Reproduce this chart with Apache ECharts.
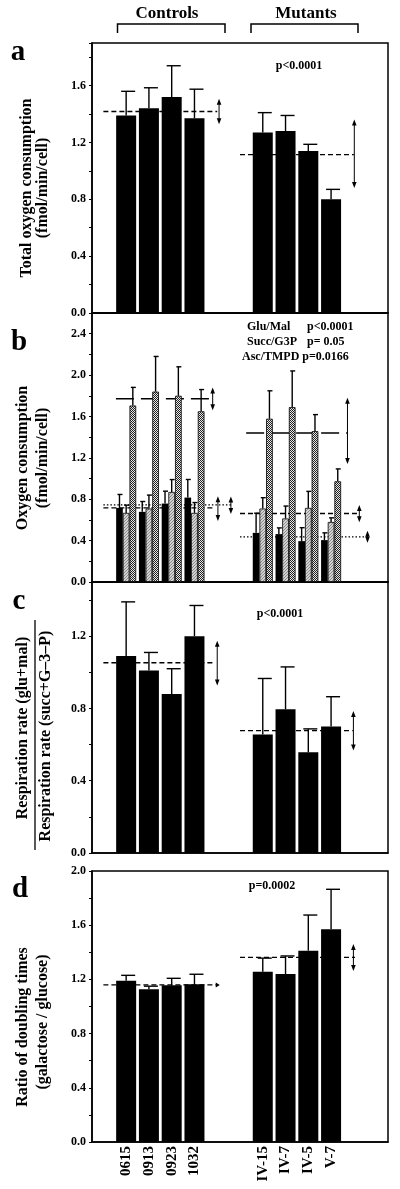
<!DOCTYPE html>
<html><head><meta charset="utf-8">
<script src="https://cdn.jsdelivr.net/npm/echarts@6/dist/echarts.min.js"></script>
<style>html,body{margin:0;padding:0;background:#fff}#c{width:400px;height:1189px}</style>
</head><body><div id="c"></div>
<script>
// ---------- DATA ----------
const samples = ['0615','0913','0923','1032','IV-15','IV-7','IV-5','V-7'];
const slotNames = [' ','0615','0913','0923','1032','  ','   ','IV-15','IV-7','IV-5','V-7','    ','     '];
const yTickLabels = ['0.0','0.4','0.8','1.2','1.6','2.0','2.4'];

// panel a: total oxygen consumption (fmol/min/cell)
const totalO2     = [1.39, 1.44, 1.52, 1.37, 1.27, 1.28, 1.14, 0.80];
const totalO2Sd   = [0.17, 0.145, 0.22, 0.205, 0.14, 0.11, 0.047, 0.07];
const totalO2Mean = [1.418, 1.114];
const totalO2Rng  = [[1.335, 1.50], [0.886, 1.354]];

// panel b: oxygen consumption by substrate
const gluMal    = [0.716, 0.678, 0.758, 0.816, 0.475, 0.463, 0.395, 0.405];
const gluMalSd  = [0.13, 0.10, 0.12, 0.175, 0.19, 0.06, 0.13, 0.07];
const succG3P   = [0.668, 0.71, 0.87, 0.668, 0.71, 0.614, 0.716, 0.58];
const succG3PSd = [0.075, 0.13, 0.12, 0.10, 0.105, 0.12, 0.16, 0.04];
const ascTMPD   = [1.706, 1.84, 1.80, 1.65, 1.578, 1.69, 1.458, 0.973];
const ascTMPDSd = [0.175, 0.34, 0.28, 0.21, 0.27, 0.35, 0.16, 0.12];
const gluMalMean  = [0.745, 0.437];
const gluMalRng   = [[0.668, 0.816], [0.389, 0.485]];
const succG3PMean = [0.716, 0.662];
const succG3PRng  = [[0.60, 0.82], [0.588, 0.735]];
const ascTMPDMean = [1.77, 1.44];
const ascTMPDRng  = [[1.67, 1.87], [1.15, 1.77]];

// panel c: respiration ratio
const respRatio     = [1.09, 1.01, 0.88, 1.20, 0.656, 0.795, 0.557, 0.70];
const respRatioSd   = [0.30, 0.10, 0.14, 0.17, 0.31, 0.235, 0.13, 0.165];
const respRatioMean = [1.053, 0.677];
const respRatioRng  = [[0.933, 1.169], [0.573, 0.78]];

// panel d: ratio of doubling times
const doubling     = [1.19, 1.127, 1.156, 1.164, 1.257, 1.24, 1.412, 1.57];
const doublingSd   = [0.04, 0.023, 0.052, 0.074, 0.10, 0.133, 0.263, 0.295];
const doublingMean = [1.159, 1.363];
const doublingRng  = [[1.152, 1.166], [1.27, 1.454]];

// ---------- LAYOUT ----------
const FONT = "'Liberation Serif','Times New Roman',serif";
const sampleSlot = [1,2,3,4,7,8,9,10];
function toSlots(arr){ const o = slotNames.map(()=>'-'); sampleSlot.forEach((s,i)=>o[s]=arr[i]); return o; }

function makePattern(kind){
  const c = document.createElement('canvas');
  if (kind==='cross'){
    c.width=2; c.height=2; const g=c.getContext('2d');
    g.fillStyle='#e8e8e8'; g.fillRect(0,0,2,2);
    g.fillStyle='#222'; g.fillRect(0,0,1,1); g.fillRect(1,1,1,1);
  } else {
    c.width=3; c.height=3; const g=c.getContext('2d');
    g.fillStyle='#d2d2d2'; g.fillRect(0,0,3,3);
    g.fillStyle='#8a8a8a'; g.fillRect(0,0,1,1); g.fillRect(2,1,1,1); g.fillRect(1,2,1,1);
  }
  return {image:c, repeat:'repeat'};
}
const crossFill = makePattern('cross');
const greyFill = makePattern('grey');

const grids = [
  {left:92, width:296, top:43,  height:270},
  {left:92, width:296, top:313, height:269},
  {left:92, width:296, top:582, height:271},
  {left:92, width:296, top:871, height:271}
];
const yMax = [1.9, 2.6, 1.5, 2.0];

function yAxis(i){
  return {
    type:'value', gridIndex:i, min:0, max:yMax[i], interval:0.2,
    axisLine:{show:true, lineStyle:{color:'#000', width:1.5}},
    axisTick:{show:true, length:3, lineStyle:{color:'#000', width:1}},
    splitLine:{show:false},
    axisLabel:{
      margin:6, color:'#000', fontFamily:FONT, fontWeight:'bold', fontSize:12,
      formatter: v => { const k = Math.round(v*10); return (k%4===0) ? yTickLabels[k/4] : ''; }
    }
  };
}
function xAxis(i){
  return {
    type:'category', gridIndex:i, data:slotNames,
    axisLine:{show:true, lineStyle:{color:'#000', width:1.5}},
    axisTick:{show:false},
    axisLabel:{show:i===3, rotate:90, margin:4, color:'#000', fontFamily:FONT, fontWeight:'bold', fontSize:15, interval:0}
  };
}

function barSeries(i, vals, color, width){
  return {type:'bar', xAxisIndex:i, yAxisIndex:i, data:toSlots(vals), barWidth:width, barGap:'0%', z:2,
    itemStyle:{color:color, borderColor:'#000', borderWidth: color==='#000'?0:0.8}, silent:true};
}

function errSeries(i, vals, sds, offset, capL, capR){
  return {type:'custom', xAxisIndex:i, yAxisIndex:i, z:3, silent:true,
    data: vals.map((v,k)=>[sampleSlot[k], v, sds[k]]),
    renderItem:(params, api)=>{
      const slot = api.value(0), v = api.value(1), sd = api.value(2);
      const p0 = api.coord([slot, v]), p1 = api.coord([slot, v+sd]);
      const x = p0[0] + offset;
      return {type:'group', children:[
        {type:'line', shape:{x1:x, y1:p0[1], x2:x, y2:p1[1]}, style:{stroke:'#000', lineWidth:1.4}},
        {type:'line', shape:{x1:x-capL, y1:p1[1], x2:x+capR, y2:p1[1]}, style:{stroke:'#000', lineWidth:1.4}}
      ]};
    }};
}

// reference line specs: positions in slot units
function refSeries(i, items){
  return {type:'custom', xAxisIndex:i, yAxisIndex:i, z:1, silent:true,
    data: items.map((d,k)=>[k]),
    renderItem:(params, api)=>{
      const s = items[params.dataIndex];
      const bw = api.size([1,0])[0];
      const xc0 = api.coord([0,0])[0];
      const X = p => xc0 + p*bw;
      const Y = v => api.coord([0,v])[1];
      const ch = [];
      ch.push({type:'line', shape:{x1:X(s.x0), y1:Y(s.mean), x2:X(s.x1), y2:Y(s.mean)},
               style:{stroke:'#000', lineWidth:s.lw||1.3, lineDash:s.dash}});
      const ax = X(s.xa), yt = Y(s.rng[1]), yb = Y(s.rng[0]);
      if (yb - yt < 8) {
        const ym = Y(s.mean);
        ch.push({type:'polygon', shape:{points:[[ax-1,ym-2.5],[ax+3,ym],[ax-1,ym+2.5]]}, style:{fill:'#000'}});
      } else {
        ch.push({type:'line', shape:{x1:ax, y1:yt+2, x2:ax, y2:yb-2}, style:{stroke:'#000', lineWidth:1}});
        ch.push({type:'polygon', shape:{points:[[ax,yt-1],[ax-2.3,yt+5],[ax+2.3,yt+5]]}, style:{fill:'#000'}});
        ch.push({type:'polygon', shape:{points:[[ax,yb+1],[ax-2.3,yb-5],[ax+2.3,yb-5]]}, style:{fill:'#000'}});
      }
      return {type:'group', children:ch};
    }};
}
const DASH = [5,3], DOT = [1.5,2], LONG = [18,7];

const series = [
  // a
  refSeries(0, [
    {mean:totalO2Mean[0], rng:totalO2Rng[0], x0:0, x1:5, xa:5.08, dash:DASH},
    {mean:totalO2Mean[1], rng:totalO2Rng[1], x0:6, x1:11, xa:11.02, dash:DASH}
  ]),
  barSeries(0, totalO2, '#000', 20),
  errSeries(0, totalO2, totalO2Sd, 0, 5, 9),
  // b
  refSeries(1, [
    {mean:gluMalMean[0], rng:gluMalRng[0], x0:0, x1:5.6, xa:5.6, dash:DOT},
    {mean:gluMalMean[1], rng:gluMalRng[1], x0:6, x1:11.56, xa:11.6, dash:DOT},
    {mean:succG3PMean[0], rng:succG3PRng[0], x0:0, x1:4.8, xa:5.03, dash:DASH},
    {mean:succG3PMean[1], rng:succG3PRng[1], x0:6, x1:11.18, xa:11.24, dash:DASH},
    {mean:ascTMPDMean[0], rng:ascTMPDRng[0], x0:0.55, x1:4.7, xa:4.8, dash:LONG, lw:1.5},
    {mean:ascTMPDMean[1], rng:ascTMPDRng[1], x0:6.27, x1:10.7, xa:10.72, dash:LONG, lw:1.5}
  ]),
  barSeries(1, gluMal, '#000', 6.67),
  barSeries(1, succG3P, greyFill, 6.67),
  barSeries(1, ascTMPD, crossFill, 6.67),
  errSeries(1, gluMal, gluMalSd, -6.67, 2, 3),
  errSeries(1, succG3P, succG3PSd, 0, 2, 3),
  errSeries(1, ascTMPD, ascTMPDSd, 6.67, 2, 3),
  // c
  refSeries(2, [
    {mean:respRatioMean[0], rng:respRatioRng[0], x0:0, x1:4.83, xa:5.0, dash:DASH},
    {mean:respRatioMean[1], rng:respRatioRng[1], x0:6, x1:10.95, xa:10.98, dash:DASH}
  ]),
  barSeries(2, respRatio, '#000', 20),
  errSeries(2, respRatio, respRatioSd, 0, 5, 9),
  // d
  refSeries(3, [
    {mean:doublingMean[0], rng:doublingRng[0], x0:0, x1:4.98, xa:4.98, dash:DASH},
    {mean:doublingMean[1], rng:doublingRng[1], x0:6, x1:11.05, xa:10.98, dash:DASH}
  ]),
  barSeries(3, doubling, '#000', 20),
  errSeries(3, doubling, doublingSd, 0, 5, 9)
];

function txt(x, y, s, opt){
  opt = opt || {};
  return {type:'text', x:x, y:y, rotation:opt.rot||0, z:10, silent:true,
    style:{text:s, fill:'#000', font:(opt.weight||'bold')+' '+(opt.size||16)+'px '+FONT,
           align:opt.align||'center', verticalAlign:opt.va||'middle'}};
}
const R = Math.PI/2;
const graphic = [
  txt(167, 14, 'Controls', {size:17}),
  txt(306, 14, 'Mutants', {size:17}),
  {type:'polyline', shape:{points:[[117.5,33],[117.5,24],[225,24],[225,33]]}, style:{stroke:'#000', lineWidth:1.5, fill:null}},
  {type:'polyline', shape:{points:[[251,33],[251,24],[358,24],[358,33]]}, style:{stroke:'#000', lineWidth:1.5, fill:null}},
  txt(18, 53, 'a', {size:29}),
  txt(19, 343, 'b', {size:29}),
  txt(19, 602, 'c', {size:29}),
  txt(20, 890, 'd', {size:29}),
  txt(27, 188, 'Total oxygen consumption', {rot:R}),
  txt(43, 188, '(fmol/min/cell)', {rot:R}),
  txt(23, 458, 'Oxygen consumption', {rot:R}),
  txt(43, 458, '(fmol/min/cell)', {rot:R}),
  txt(22.5, 728, 'Respiration rate (glu+mal)', {rot:R}),
  {type:'line', shape:{x1:35, y1:620, x2:35, y2:850}, style:{stroke:'#000', lineWidth:1.3}},
  txt(46, 736, 'Respiration rate (succ+G\u20133\u2013P)', {rot:R}),
  txt(22.5, 1027, 'Ratio of doubling times', {rot:R}),
  txt(42.5, 1022, '(galactose / glucose)', {rot:R}),
  txt(299, 66, 'p<0.0001', {size:12}),
  txt(280, 614, 'p<0.0001', {size:12}),
  txt(272, 886, 'p=0.0002', {size:12}),
  txt(247, 327, 'Glu/Mal', {size:12, align:'left'}),
  txt(307, 327, 'p<0.0001', {size:12, align:'left'}),
  txt(247, 342, 'Succ/G3P', {size:12, align:'left'}),
  txt(307, 342, 'p= 0.05', {size:12, align:'left'}),
  txt(242, 357, 'Asc/TMPD p=0.0166', {size:12, align:'left'})
];

const chart = echarts.init(document.getElementById('c'), null, {renderer:'canvas'});
chart.setOption({
  animation:false,
  backgroundColor:'#fff',
  grid: grids.map(g=>Object.assign({show:true, borderColor:'#000', borderWidth:1.5, backgroundColor:'transparent'}, g)),
  xAxis: [0,1,2,3].map(xAxis),
  yAxis: [0,1,2,3].map(yAxis),
  series: series,
  graphic: graphic
});
</script>
</body></html>
